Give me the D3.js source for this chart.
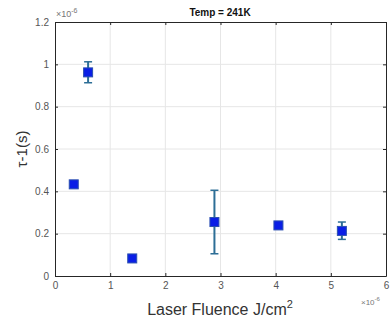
<!DOCTYPE html>
<html><head><meta charset="utf-8">
<script src="https://cdn.jsdelivr.net/npm/d3@7"></script>
<style>body{margin:0;background:#fff}svg{display:block;font-family:"Liberation Sans",Arial,sans-serif}</style>
</head><body>
<svg id="c" width="392" height="323"></svg>
<script>
const fluence = [0.34, 0.60, 1.40, 2.89, 4.05, 5.20];
const tau = [0.433, 0.962, 0.083, 0.255, 0.239, 0.213];
const errLow = [0, 0.049, 0, 0.150, 0, 0.040];
const errHigh = [0, 0.050, 0, 0.150, 0, 0.042];
const xTicks = [0,1,2,3,4,5,6];
const yTicks = [0,0.2,0.4,0.6,0.8,1,1.2];

const svg = d3.select("#c");
const L=55, R=386, T=22, B=276;
const x = d3.scaleLinear().domain([0,6]).range([L,R]);
const y = d3.scaleLinear().domain([0,1.2]).range([B,T]);

// grid
svg.append("g").selectAll("line").data(xTicks.slice(1,-1)).join("line")
  .attr("x1",d=>x(d)).attr("x2",d=>x(d)).attr("y1",T).attr("y2",B)
  .attr("stroke","#e6e6e6").attr("stroke-width",1);
svg.append("g").selectAll("line").data(yTicks.slice(1,-1)).join("line")
  .attr("y1",d=>y(d)).attr("y2",d=>y(d)).attr("x1",L).attr("x2",R)
  .attr("stroke","#e6e6e6").attr("stroke-width",1);

// axes
const fmt = d=>String(d);
const ax = (g)=>{g.selectAll("path").attr("stroke","#262626");g.selectAll("line").attr("stroke","#262626");g.selectAll("text").attr("fill","#555").attr("font-size","10px");};
svg.append("g").attr("transform",`translate(0,${B})`).call(d3.axisBottom(x).tickValues(xTicks).tickFormat(fmt).tickSize(-3).tickSizeOuter(0).tickPadding(6)).call(ax);
svg.append("g").attr("transform",`translate(0,${T})`).call(d3.axisTop(x).tickValues(xTicks).tickFormat("").tickSize(-3).tickSizeOuter(0)).call(ax);
svg.append("g").attr("transform",`translate(${L},0)`).call(d3.axisLeft(y).tickValues(yTicks).tickFormat(fmt).tickSize(-3).tickSizeOuter(0).tickPadding(6)).call(ax);
svg.append("g").attr("transform",`translate(${R},0)`).call(d3.axisRight(y).tickValues(yTicks).tickFormat("").tickSize(-3).tickSizeOuter(0)).call(ax);

// error bars
const data = fluence.map((f,i)=>({f, t:tau[i], lo:errLow[i], hi:errHigh[i]}));
const eb = data.filter(d=>d.lo>0||d.hi>0);
const ec = "#2d6e96";
const g = svg.append("g");
g.selectAll("line.v").data(eb).join("line").attr("class","v")
  .attr("x1",d=>x(d.f)).attr("x2",d=>x(d.f)).attr("y1",d=>y(d.t+d.hi)).attr("y2",d=>y(d.t-d.lo))
  .attr("stroke",ec).attr("stroke-width",2);
g.selectAll("line.t").data(eb).join("line").attr("class","t")
  .attr("x1",d=>x(d.f)-4).attr("x2",d=>x(d.f)+4).attr("y1",d=>y(d.t+d.hi)).attr("y2",d=>y(d.t+d.hi))
  .attr("stroke",ec).attr("stroke-width",1.5);
g.selectAll("line.b").data(eb).join("line").attr("class","b")
  .attr("x1",d=>x(d.f)-4).attr("x2",d=>x(d.f)+4).attr("y1",d=>y(d.t-d.lo)).attr("y2",d=>y(d.t-d.lo))
  .attr("stroke",ec).attr("stroke-width",1.5);
// markers
g.selectAll("rect").data(data).join("rect")
  .attr("x",d=>x(d.f)-4.5).attr("y",d=>y(d.t)-4.5).attr("width",9).attr("height",9)
  .attr("fill","#0a1ee6").attr("stroke","#2a4fb0").attr("stroke-width",1);

// texts
svg.append("text").attr("x",220).attr("y",16).attr("text-anchor","middle")
  .attr("font-size","10px").attr("font-weight","bold").attr("fill","#111").text("Temp = 241K");
const e1 = svg.append("text").attr("x",56).attr("y",17).attr("font-size","9px").attr("fill","#777");
e1.append("tspan").text("×10");
e1.append("tspan").attr("dy",-4).attr("font-size","7px").text("-6");
const e2 = svg.append("text").attr("x",361).attr("y",305).attr("font-size","8px").attr("fill","#777");
e2.append("tspan").text("×10");
e2.append("tspan").attr("dy",-4).attr("font-size","6px").text("-6");

svg.append("text").attr("transform","translate(27,149) rotate(-90)").attr("text-anchor","middle")
  .attr("font-size","15px").attr("fill","#333").text("τ-1(s)");
const xl = svg.append("text").attr("x",220).attr("y",315).attr("text-anchor","middle")
  .attr("font-size","16px").attr("fill","#333");
xl.append("tspan").text("Laser Fluence J/cm");
xl.append("tspan").attr("dy",-7).attr("font-size","11px").text("2");
</script>
</body></html>
